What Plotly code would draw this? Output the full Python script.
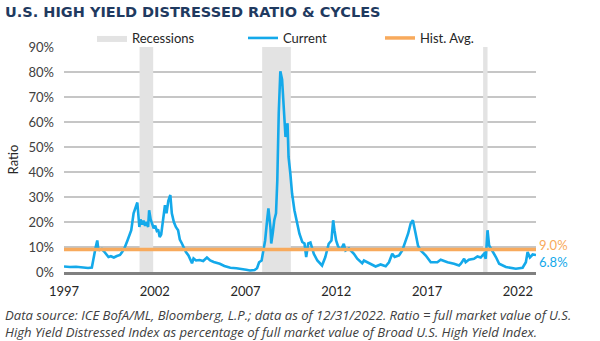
import plotly.graph_objects as go

# ---------------- data ----------------
dates = [
    "1997-01-01", "1997-05-01", "1997-09-01", "1998-01-01", "1998-05-01", "1998-07-15",
    "1998-08-15", "1998-10-01", "1998-11-01", "1998-11-20", "1998-12-15", "1999-02-01",
    "1999-03-15", "1999-05-01", "1999-06-15", "1999-08-01", "1999-10-01", "1999-12-01",
    "2000-02-01", "2000-03-15", "2000-05-01", "2000-07-01", "2000-08-01", "2000-09-15",
    "2000-11-01", "2000-12-15", "2001-01-15", "2001-02-25", "2001-03-20", "2001-04-20",
    "2001-05-20", "2001-06-20", "2001-07-20", "2001-08-20", "2001-09-10", "2001-10-10",
    "2001-11-10", "2001-12-10", "2002-01-10", "2002-02-10", "2002-03-10", "2002-04-10",
    "2002-05-10", "2002-06-10", "2002-07-25", "2002-08-25", "2002-10-01", "2002-11-10",
    "2002-12-10", "2003-01-20", "2003-03-01", "2003-04-15", "2003-05-20", "2003-07-01",
    "2003-08-10", "2003-09-20", "2003-11-10", "2003-12-10", "2004-01-20", "2004-02-20",
    "2004-04-10", "2004-06-20", "2004-09-01", "2004-11-15", "2005-01-20", "2005-04-01",
    "2005-08-01", "2005-11-01", "2006-03-01", "2006-07-01", "2006-10-01", "2007-01-15",
    "2007-04-01", "2007-07-01", "2007-08-20", "2007-10-01", "2007-11-20", "2007-12-20",
    "2008-01-30", "2008-03-10", "2008-04-05", "2008-05-15", "2008-06-01", "2008-07-01",
    "2008-08-01", "2008-09-05", "2008-10-01", "2008-10-30", "2008-12-01", "2009-01-05",
    "2009-02-01", "2009-03-15", "2009-04-25", "2009-05-15", "2009-06-20", "2009-07-25",
    "2009-09-10", "2009-11-01", "2009-12-20", "2010-02-15", "2010-04-01", "2010-05-05",
    "2010-06-15", "2010-07-30", "2010-10-05", "2010-12-15", "2011-03-20", "2011-05-25",
    "2011-08-01", "2011-09-25", "2011-10-30", "2011-11-25", "2011-12-28", "2012-01-30",
    "2012-03-25", "2012-05-30", "2012-07-05", "2012-09-10", "2012-12-20", "2013-02-25",
    "2013-06-05", "2013-07-10", "2013-11-20", "2014-03-01", "2014-06-10", "2014-09-20",
    "2014-11-25", "2015-01-30", "2015-03-20", "2015-06-15", "2015-08-20", "2015-10-25",
    "2015-12-15", "2016-02-05", "2016-03-20", "2016-05-15", "2016-07-01", "2016-08-25",
    "2016-12-05", "2017-03-15", "2017-07-25", "2017-10-01", "2018-02-15", "2018-06-25",
    "2018-10-05", "2018-11-10", "2019-01-15", "2019-02-15", "2019-04-20", "2019-08-01",
    "2019-10-10", "2019-12-15", "2020-02-20", "2020-03-25", "2020-04-30", "2020-06-01",
    "2020-08-05", "2020-10-15", "2020-12-20", "2021-05-05", "2021-11-20", "2022-04-05",
    "2022-06-10", "2022-07-15", "2022-08-30", "2022-10-25", "2022-12-31",
]
ratio = [
    2.2, 2.0, 2.1, 1.8, 1.6, 1.8,
    5.5, 10.0, 12.6, 9.5, 8.8, 9.2,
    8.3, 7.0, 6.0, 6.3, 5.8, 6.4,
    6.8, 8.0, 9.5, 12.6, 14.0, 16.7,
    23.5, 26.0, 27.8, 18.0, 21.0, 19.0,
    20.5, 18.5, 20.0, 18.0, 24.7, 21.0,
    19.5, 17.5, 18.5, 16.5, 17.0, 14.0,
    15.0, 19.0, 26.7, 23.5, 28.5, 30.8,
    23.5, 20.0, 18.0, 16.7, 13.0, 11.4,
    9.4, 8.0, 6.6, 5.0, 3.5, 5.4,
    4.6, 4.8, 4.4, 5.8, 4.6, 4.0,
    3.3, 2.4, 1.7, 1.5, 1.3, 0.9,
    0.6, 0.8, 1.5, 3.9, 4.6, 7.4,
    12.6, 20.7, 25.4, 18.0, 11.4, 15.5,
    20.7, 23.5, 36.7, 63.6, 80.3, 77.0,
    66.0, 54.0, 59.5, 46.0, 39.4, 31.4,
    24.7, 19.4, 15.3, 12.0, 11.4, 6.0,
    11.4, 11.8, 7.3, 4.6, 2.6, 6.0,
    11.3, 12.6, 20.7, 16.7, 12.6, 10.6,
    8.6, 11.3, 8.6, 9.4, 7.3, 5.3,
    3.5, 4.6, 3.3, 2.2, 3.0, 2.3,
    3.9, 7.3, 6.0, 6.6, 8.6, 12.0,
    15.3, 19.4, 20.7, 15.3, 10.6, 8.6,
    6.6, 3.9, 3.9, 4.9, 3.9, 3.3,
    2.6, 3.3, 5.3, 3.9, 4.9, 5.3,
    6.2, 5.8, 7.3, 5.3, 16.7, 10.6,
    8.6, 6.0, 3.3, 2.0, 1.3, 1.7,
    3.9, 8.0, 5.8, 7.0, 6.8,
]
hist_avg = 9.0
recession_start = ["2001-03-01", "2007-12-01", "2020-02-01"]
recession_end = ["2001-11-30", "2009-06-30", "2020-04-30"]
x_start, x_end = "1997-01-01", "2022-12-31"
tick_years = ["1997", "2002", "2007", "2012", "2017", "2022"]
y_ticks = [0, 10, 20, 30, 40, 50, 60, 70, 80, 90]

title = "U.S. HIGH YIELD DISTRESSED RATIO & CYCLES"
footnote = ("Data source: ICE BofA/ML, Bloomberg, L.P.; data as of 12/31/2022. Ratio = full market value of U.S.<br>"
            "High Yield Distressed Index as percentage of full market value of Broad U.S. High Yield Index.")

# ---------------- style ----------------
BLUE = "#14a9ea"
ORANGE = "#f8aa5c"
GREY_BAND = "#e3e3e3"
FONT = "Lato, 'Open Sans', sans-serif"
W, H = 600, 341
ML, MR, MT, MB = 64, 64, 47, 69

fig = go.Figure()

# recession bands as filled rectangles
rx, ry = [], []
for s, e in zip(recession_start, recession_end):
    rx += [s, s, e, e, s, None]
    ry += [0, y_ticks[-1], y_ticks[-1], 0, 0, None]
fig.add_trace(go.Scatter(x=rx, y=ry, fill="toself", fillcolor=GREY_BAND, mode="lines",
                         line=dict(width=0, color=GREY_BAND), showlegend=True,
                         name="Recessions", legend="legend", hoverinfo="skip"))
fig.add_trace(go.Scatter(x=dates, y=ratio, mode="lines", line=dict(color=BLUE, width=2.6),
                         name="Current", legend="legend2", showlegend=True))
fig.add_trace(go.Scatter(x=[x_start, x_end], y=[hist_avg, hist_avg], mode="lines",
                         line=dict(color=ORANGE, width=3.5), name="Hist. Avg.", legend="legend3",
                         showlegend=True))

pw = W - ML - MR
ph = H - MT - MB
def px_x(p):
    return (p - ML) / pw
def px_y(p):
    return (H - MB - p) / ph

leg_common = dict(orientation="h", yanchor="middle", xanchor="left", y=px_y(38),
                  font=dict(family=FONT, size=13, color="#262626"), bgcolor="rgba(0,0,0,0)",
                  itemwidth=30, tracegroupgap=0)
fig.update_layout(
    showlegend=True,
    legend=dict(x=px_x(92), **leg_common),
    legend2=dict(x=px_x(243), **leg_common),
    legend3=dict(x=px_x(380), **leg_common),
)

fig.update_xaxes(type="date", range=[x_start, x_end], tickvals=[f"{y}-01-01" for y in tick_years],
                 ticktext=tick_years, showgrid=False, showline=True, linecolor="#808080", linewidth=3,
                 ticks="", ticklabelstandoff=5,
                 tickfont=dict(family=FONT, size=13, color="#262626"), zeroline=False)
fig.update_yaxes(range=[0, y_ticks[-1]], tickvals=y_ticks, ticktext=[f"{v}%" for v in y_ticks],
                 showgrid=True, gridcolor="#c6c6c6", gridwidth=1.5, zeroline=False, ticks="",
                 ticklabelstandoff=9,
                 tickfont=dict(family=FONT, size=13, color="#404040"),
                 title=dict(text="Ratio", font=dict(family=FONT, size=13, color="#262626"), standoff=6))

# end labels
fig.add_annotation(x=x_end, y=hist_avg, text=f"{hist_avg:.1f}%", showarrow=False, xanchor="left",
                   yshift=5, xshift=1, font=dict(family=FONT, size=13, color=ORANGE))
fig.add_annotation(x=dates[-1], y=ratio[-1], text=f"{ratio[-1]:.1f}%", showarrow=False, xanchor="left",
                   yshift=-7, xshift=1, font=dict(family=FONT, size=13, color=BLUE))

fig.add_annotation(xref="paper", yref="paper", x=px_x(3), y=px_y(304), xanchor="left", yanchor="top",
                   text=footnote, showarrow=False, align="left",
                   font=dict(family="'Open Sans', sans-serif", size=13.1, color="#404040", style="italic"))

fig.update_layout(
    width=W, height=H, margin=dict(l=ML, r=MR, t=MT, b=MB),
    paper_bgcolor="white", plot_bgcolor="white",
    title=dict(text=f"<b>{title}</b>", x=5 / W, xanchor="left", y=1 - 12 / H, yanchor="middle",
               font=dict(family="'DejaVu Sans', sans-serif", size=14.5, color="#1f3a60")),
)
fig.write_html("out.html")
